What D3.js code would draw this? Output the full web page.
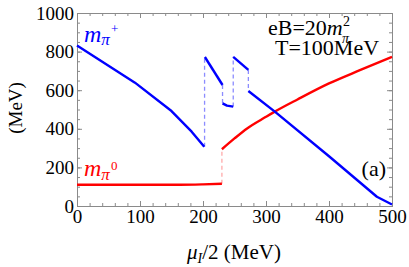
<!DOCTYPE html>
<html>
<head>
<meta charset="utf-8">
<script src="https://cdn.jsdelivr.net/npm/d3@7"></script>
</head>
<body style="margin:0">
<svg id="chart" width="409" height="267" font-family="Liberation Serif"></svg>
<script>
// charged pion branches (mu_I/2, mass) in MeV
const piPlusLowMu = [0, 92, 150, 182, 202];
const piPlusLowM = [832, 639, 492, 385, 307];
const piPlusUp1Mu = [203, 231];
const piPlusUp1M = [772, 627];
const piPlusMid1Mu = [231, 238, 248];
const piPlusMid1M = [532, 520, 515];
const piPlusUp2Mu = [248, 272];
const piPlusUp2M = [773, 705];
const piPlusHighMu = [272, 314, 400, 476, 500];
const piPlusHighM = [596, 489, 258, 48, 8];
// neutral pion branches
const piZeroLowMu = [0, 100, 163, 200, 230];
const piZeroLowM = [110, 110, 110, 112, 115];
const piZeroHighMu = [230, 250, 270, 300, 314, 350, 400, 450, 500];
const piZeroHighM = [294, 350, 402, 462, 489, 552, 635, 705, 773];
// jumps drawn dashed: [mu, m from, m to]
const piPlusJumps = [[202.5, 307, 772], [231, 627, 532], [248, 515, 773], [272, 705, 596]];
const piZeroJumps = [[230, 115, 294]];

const xTicks = [0, 100, 200, 300, 400, 500];
const yTicks = [0, 200, 400, 600, 800, 1000];

const svg = d3.select("#chart");
const margin = { left: 77, right: 17, top: 13, bottom: 61 };
const W = 409, H = 267;

const x = d3.scaleLinear().domain([0, 500]).range([margin.left, W - margin.right]);
const y = d3.scaleLinear().domain([0, 1000]).range([H - margin.bottom, margin.top]);

const frameColor = "#8a8a8a";

function styleAxis(g) {
  g.attr("font-family", null).attr("font-size", 19);
  g.select(".domain").attr("stroke", frameColor).attr("stroke-width", 1);
  g.selectAll(".tick line").attr("stroke", frameColor);
  g.selectAll(".tick text").attr("fill", "#000");
}

const xMinor = d3.range(0, 501, 20);
const yMinor = d3.range(0, 1001, 50);

// minor ticks on all sides
svg.append("g").attr("transform", `translate(0,${y(0)})`)
  .call(d3.axisBottom(x).tickValues(xMinor).tickSize(-3).tickFormat(""))
  .call(styleAxis);
svg.append("g").attr("transform", `translate(0,${y(1000)})`)
  .call(d3.axisTop(x).tickValues(xMinor).tickSize(-3).tickFormat(""))
  .call(styleAxis);
svg.append("g").attr("transform", `translate(${x(0)},0)`)
  .call(d3.axisLeft(y).tickValues(yMinor).tickSize(-3).tickFormat(""))
  .call(styleAxis);
svg.append("g").attr("transform", `translate(${x(500)},0)`)
  .call(d3.axisRight(y).tickValues(yMinor).tickSize(-3).tickFormat(""))
  .call(styleAxis);

// major ticks
svg.append("g").attr("transform", `translate(0,${y(0)})`)
  .call(d3.axisBottom(x).tickValues(xTicks).tickSize(-5).tickPadding(4).tickFormat(d3.format("d")))
  .call(styleAxis);
svg.append("g").attr("transform", `translate(0,${y(1000)})`)
  .call(d3.axisTop(x).tickValues(xTicks).tickSize(-5).tickFormat(""))
  .call(styleAxis);
svg.append("g").attr("transform", `translate(${x(0)},0)`)
  .call(d3.axisLeft(y).tickValues(yTicks).tickSize(-5).tickPadding(3).tickFormat(d3.format("d")))
  .call(styleAxis);
svg.append("g").attr("transform", `translate(${x(500)},0)`)
  .call(d3.axisRight(y).tickValues(yTicks).tickSize(-5).tickFormat(""))
  .call(styleAxis);

const line = d3.line().x(d => x(d[0])).y(d => y(d[1]));
const smooth = d3.line().x(d => x(d[0])).y(d => y(d[1])).curve(d3.curveMonotoneX);

function zip(a, b) { return a.map((v, i) => [v, b[i]]); }

// dashed jumps
piPlusJumps.forEach(j => {
  svg.append("path").attr("d", line([[j[0], j[1]], [j[0], j[2]]]))
    .attr("fill", "none").attr("stroke", "#8c8cff").attr("stroke-width", 1.3)
    .attr("stroke-dasharray", "4,3");
});
piZeroJumps.forEach(j => {
  svg.append("path").attr("d", line([[j[0], j[1]], [j[0], j[2]]]))
    .attr("fill", "none").attr("stroke", "#ffaaaa").attr("stroke-width", 1.3)
    .attr("stroke-dasharray", "4,3");
});

const blue = "#0000ff", red = "#ff0000";
[[piZeroLowMu, piZeroLowM], [piZeroHighMu, piZeroHighM]].forEach(s => {
  svg.append("path").attr("d", smooth(zip(s[0], s[1])))
    .attr("fill", "none").attr("stroke", red).attr("stroke-width", 2.4);
});
[[piPlusLowMu, piPlusLowM], [piPlusUp1Mu, piPlusUp1M], [piPlusMid1Mu, piPlusMid1M],
 [piPlusUp2Mu, piPlusUp2M], [piPlusHighMu, piPlusHighM]].forEach(s => {
  svg.append("path").attr("d", line(zip(s[0], s[1])))
    .attr("fill", "none").attr("stroke", blue).attr("stroke-width", 2.4)
    .attr("stroke-linejoin", "round");
});

function txt(xp, yp, size) {
  return svg.append("text").attr("x", xp).attr("y", yp).attr("font-size", size);
}

// series labels
const lp = txt(84, 42, 24).attr("fill", blue).attr("font-style", "italic");
lp.append("tspan").text("m");
lp.append("tspan").attr("dy", 3).attr("font-size", 17).text("π");
txt(111, 33, 13).attr("fill", blue).text("+");

const l0 = txt(84, 176, 24).attr("fill", red).attr("font-style", "italic");
l0.append("tspan").text("m");
l0.append("tspan").attr("dy", 4).attr("font-size", 17).text("π");
txt(111, 170, 13).attr("fill", red).text("0");

// parameters
const eb = txt(268, 35, 22);
eb.append("tspan").text("eB=20");
eb.append("tspan").attr("font-style", "italic").text("m");
txt(343, 26, 14).text("2");
txt(342, 43, 14).attr("font-style", "italic").text("π");
txt(275, 55, 22).text("T=100MeV");

txt(386, 176, 22).attr("text-anchor", "end").text("(a)");

// axis titles
const xt = txt(234, 259, 21).attr("text-anchor", "middle");
xt.append("tspan").attr("font-style", "italic").text("μ");
xt.append("tspan").attr("dy", 4).attr("font-size", 14).attr("font-style", "italic").text("I");
xt.append("tspan").attr("dy", -4).text("/2 (MeV)");

svg.append("text").attr("transform", `translate(22,108) rotate(-90)`)
  .attr("text-anchor", "middle").attr("font-size", 19).text("(MeV)");
</script>
</body>
</html>
